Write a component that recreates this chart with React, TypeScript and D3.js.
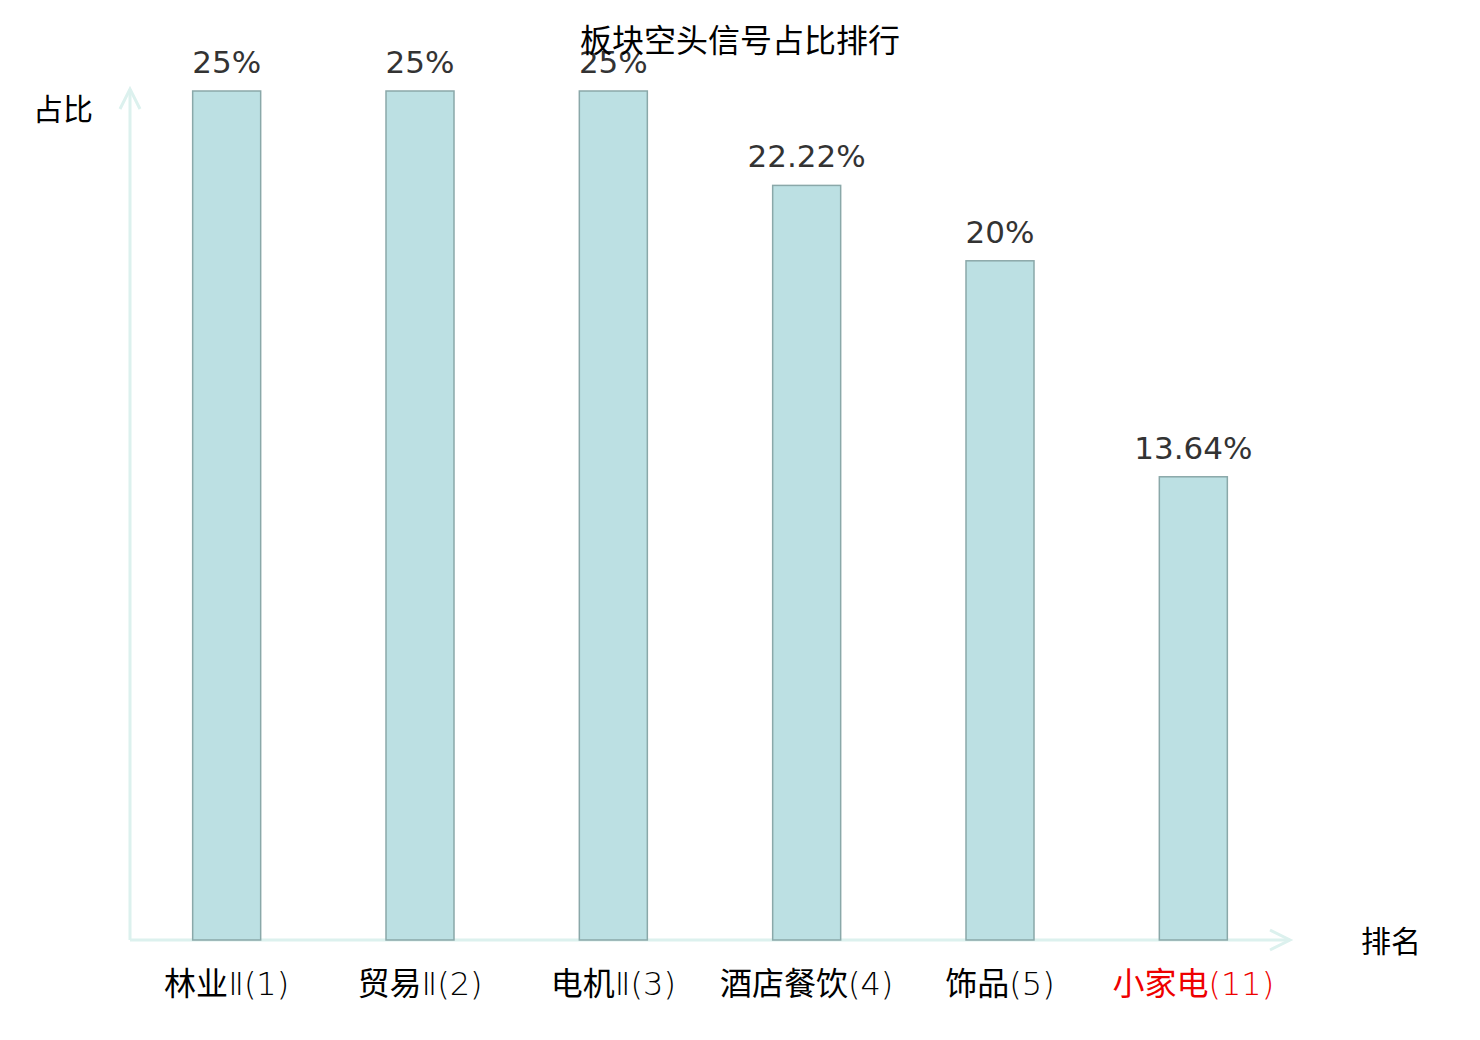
import React from "react";
import * as d3 from "d3";

const categories = ["林业Ⅱ(1)", "贸易Ⅱ(2)", "电机Ⅱ(3)", "酒店餐饮(4)", "饰品(5)", "小家电(11)"];
const values = [25, 25, 25, 22.22, 20, 13.64];
const valueLabels = ["25%", "25%", "25%", "22.22%", "20%", "13.64%"];
const highlight = [false, false, false, false, false, true];

const W = 1480;
const H = 1040;
const x0 = 130;
const x1 = 1290;
const yBase = 940;
const yTop = 91;

export default function App() {
  const x = d3.scaleBand<string>().domain(categories).range([x0, x1]).paddingInner(0).paddingOuter(0);
  const y = d3.scaleLinear().domain([0, 25]).range([yBase, yTop]);
  const bw = 68;
  const axisColor = "#dcf1ee";
  const cjk = "'Noto Sans CJK SC', 'DejaVu Sans', sans-serif";
  const label = "'DejaVu Sans', 'Noto Sans CJK SC', sans-serif";
  const num = "'DejaVu Sans', sans-serif";
  return (
    <svg width={W} height={H} style={{ position: "absolute", left: 0, top: 0, background: "#fff" }}>
      {/* axes */}
      <line x1={x0} y1={yBase} x2={x1} y2={yBase} stroke={axisColor} strokeWidth={3} />
      <polyline points={`${x1 - 20},${yBase - 10} ${x1},${yBase} ${x1 - 20},${yBase + 10}`} fill="none" stroke={axisColor} strokeWidth={3} />
      <line x1={x0} y1={yBase} x2={x0} y2={89} stroke={axisColor} strokeWidth={3} />
      <polyline points={`${x0 - 10},${109} ${x0},${89} ${x0 + 10},${109}`} fill="none" stroke={axisColor} strokeWidth={3} />
      {/* bars */}
      {categories.map((c, i) => {
        const cx = (x(c) as number) + x.bandwidth() / 2;
        const m = c.match(/^[\u4e00-\u9fff]+/);
        const head = m ? m[0] : "";
        const tail = c.slice(head.length);
        return (
          <g key={c}>
            <rect x={cx - bw / 2} y={y(values[i])} width={bw} height={yBase - y(values[i])} fill="#bce0e3" stroke="#8aa8a9" strokeWidth={1.5} />
            <text x={cx} y={y(values[i]) - 18} textAnchor="middle" fontFamily={num} fontSize={31} fill="#333">{valueLabels[i]}</text>
            <text x={cx} y={995} textAnchor="middle" fontSize={32} fill={highlight[i] ? "#ee0000" : "#000"}>
              <tspan fontFamily={cjk} fontWeight={400}>{head}</tspan>
              <tspan fontFamily={label} fontWeight={200}>{tail}</tspan>
            </text>
          </g>
        );
      })}
      <text x={740} y={52} textAnchor="middle" fontFamily={cjk} fontSize={32} fill="#000">板块空头信号占比排行</text>
      <text x={33} y={120} fontFamily={cjk} fontSize={30} fill="#000">占比</text>
      <text x={1361} y={952} fontFamily={cjk} fontSize={30} fill="#000">排名</text>
    </svg>
  );
}
